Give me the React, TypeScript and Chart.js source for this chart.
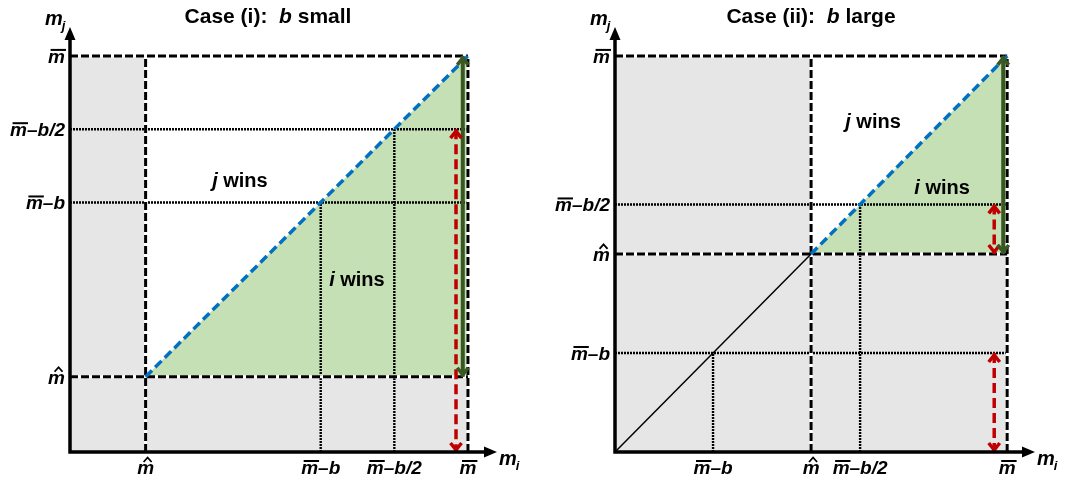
import React, { useEffect, useRef } from 'react';
import { Chart, registerables } from 'chart.js';
Chart.register(...registerables);

const HAT = '\u0302';
const BAR = '\u0305';

const M_BAR = 100;
const CASE_I_M_HAT = 19;
const CASE_I_B = 37;
const CASE_II_M_HAT = 50;
const CASE_II_B = 75;

const caseIXTicks = [CASE_I_M_HAT, M_BAR - CASE_I_B, M_BAR - CASE_I_B / 2, M_BAR];
const caseIXLabels = ['m' + HAT, 'm' + BAR + '\u2013b', 'm' + BAR + '\u2013b/2', 'm' + BAR];
const caseIYTicks = [M_BAR, M_BAR - CASE_I_B / 2, M_BAR - CASE_I_B, CASE_I_M_HAT];
const caseIYLabels = ['m' + BAR, 'm' + BAR + '\u2013b/2', 'm' + BAR + '\u2013b', 'm' + HAT];

const caseIIXTicks = [M_BAR - CASE_II_B, CASE_II_M_HAT, M_BAR - CASE_II_B / 2, M_BAR];
const caseIIXLabels = ['m' + BAR + '\u2013b', 'm' + HAT, 'm' + BAR + '\u2013b/2', 'm' + BAR];
const caseIIYTicks = [M_BAR, M_BAR - CASE_II_B / 2, CASE_II_M_HAT, M_BAR - CASE_II_B];
const caseIIYLabels = ['m' + BAR, 'm' + BAR + '\u2013b/2', 'm' + HAT, 'm' + BAR + '\u2013b'];

const caseITitle = ['Case (i):  ', 'b', ' small'];
const caseIITitle = ['Case (ii):  ', 'b', ' large'];

const regionPlayers = ['j', 'i'];
const regionSuffix = ' wins';
const caseIRegionX = [42.7, 72.1];
const caseIRegionY = [66.9, 41.9];
const caseIIRegionX = [65.8, 83.4];
const caseIIRegionY = [81.8, 65.2];

// [green arrow x, red arrow x]
const caseIArrowX = [98.7, 97.0];
const caseIIArrowX = [99.0, 96.7];

// red dashed arrows: [from, to] pairs
const caseIRedArrows = [[M_BAR - CASE_I_B / 2, 0]];
const caseIIRedArrows = [[M_BAR - CASE_II_B / 2, CASE_II_M_HAT], [M_BAR - CASE_II_B, 0]];

const GRAY = '#e7e6e6';
const GREEN_FILL = '#c5e0b4';
const BLUE = '#0070c0';
const RED = '#c00000';
const DARK_GREEN = '#385723';
const FONT = '"Liberation Sans", Arial, sans-serif';

type Pt = { x: number; y: number };

interface PanelCfg {
  mHat: number;
  b: number;
  xMax: number;
  yMax: number;
  padding: { left: number; right: number; top: number; bottom: number };
  title: string[];
  titleX: number;
  xTicks: number[];
  xLabels: string[];
  yTicks: number[];
  yLabels: string[];
  regionX: number[];
  regionY: number[];
  arrowX: number[];
  redArrows: number[][];
  originDiagonal: boolean;
}

const panels: PanelCfg[] = [
  {
    mHat: CASE_I_M_HAT, b: CASE_I_B, xMax: 107.3, yMax: 107.3,
    padding: { left: 70, right: 38, top: 27, bottom: 33 },
    title: caseITitle, titleX: 268,
    xTicks: caseIXTicks, xLabels: caseIXLabels, yTicks: caseIYTicks, yLabels: caseIYLabels,
    regionX: caseIRegionX, regionY: caseIRegionY, arrowX: caseIArrowX, redArrows: caseIRedArrows,
    originDiagonal: false,
  },
  {
    mHat: CASE_II_M_HAT, b: CASE_II_B, xMax: 107.1, yMax: 107.3,
    padding: { left: 80, right: 35, top: 27, bottom: 33 },
    title: caseIITitle, titleX: 276,
    xTicks: caseIIXTicks, xLabels: caseIIXLabels, yTicks: caseIIYTicks, yLabels: caseIIYLabels,
    regionX: caseIIRegionX, regionY: caseIIRegionY, arrowX: caseIIArrowX, redArrows: caseIIRedArrows,
    originDiagonal: true,
  },
];

function seg(x1: number, y1: number, x2: number, y2: number): Pt[] {
  return [{ x: x1, y: y1 }, { x: x2, y: y2 }];
}

function lineDs(data: Pt[], color: string, width: number, dash: number[] = [], extra: any = {}) {
  return {
    data, borderColor: color, borderWidth: width, borderDash: dash,
    pointRadius: 0, pointHoverRadius: 0, fill: false, tension: 0, clip: false,
    borderCapStyle: 'butt', borderJoinStyle: 'miter', ...extra,
  };
}

function shapeDs(data: Pt[], color: string) {
  return {
    data, borderColor: 'rgba(0,0,0,0)', borderWidth: 0, backgroundColor: color,
    pointRadius: 0, pointHoverRadius: 0, fill: 'shape', tension: 0, clip: false,
  };
}

function buildDatasets(cfg: PanelCfg) {
  const h = cfg.mHat;
  const m = M_BAR;
  const ds: any[] = [];
  ds.push(shapeDs([
    { x: 0, y: 0 }, { x: m, y: 0 }, { x: m, y: h }, { x: h, y: h }, { x: h, y: m }, { x: 0, y: m }, { x: 0, y: 0 },
  ], GRAY));
  ds.push(shapeDs([{ x: h, y: h }, { x: m, y: m }, { x: m, y: h }, { x: h, y: h }], GREEN_FILL));
  // dotted reference lines
  [m - cfg.b, m - cfg.b / 2].forEach((v) => {
    ds.push(lineDs(seg(0, v, m, v), '#000', 2.4, [2, 1]));
    ds.push(lineDs(seg(v, 0, v, v), '#000', 2.4, [2, 1]));
  });
  // thick dashed lines (white underlay + black dashes)
  const dashed: Pt[][] = [seg(0, m, m, m), seg(0, h, m, h), seg(h, 0, h, m), seg(m, 0, m, m)];
  dashed.forEach((d) => ds.push(lineDs(d, '#ffffff', 3)));
  dashed.forEach((d) => ds.push(lineDs(d, '#000', 3, [8, 3])));
  if (cfg.originDiagonal) ds.push(lineDs(seg(0, 0, h, h), '#000', 1.5));
  ds.push(lineDs(seg(h, h, m, m), BLUE, 3.5, [9, 4.5]));
  cfg.redArrows.forEach(([a, c]) => {
    ds.push(lineDs(seg(cfg.arrowX[1], a, cfg.arrowX[1], c), RED, 3.5, [10, 5], { arrow: true }));
  });
  ds.push(lineDs(seg(cfg.arrowX[0], m, cfg.arrowX[0], h), DARK_GREEN, 4, [], { arrow: true }));
  const n = ds.length;
  ds.forEach((d, i) => { d.order = n - i; });
  return ds;
}

function drawDecorated(ctx: CanvasRenderingContext2D, label: string, x: number, y: number, align: 'center' | 'right') {
  ctx.font = `bold italic 19px ${FONT}`;
  const deco = label.charAt(1);
  const text = label.charAt(0) + label.slice(2);
  const w = ctx.measureText(text).width;
  const mw = ctx.measureText('m').width;
  const x0 = align === 'center' ? x - w / 2 : x - w;
  ctx.textAlign = 'left';
  ctx.textBaseline = 'alphabetic';
  ctx.fillStyle = '#000';
  ctx.fillText(text, x0, y);
  if (deco === BAR) {
    ctx.fillRect(x0 + 2.5, y - 14, mw - 1.5, 2);
  } else if (deco === HAT) {
    const cx = x0 + mw / 2 + 2;
    ctx.beginPath();
    ctx.lineWidth = 1.8;
    ctx.strokeStyle = '#000';
    ctx.moveTo(cx - 4, y - 12);
    ctx.lineTo(cx, y - 16.5);
    ctx.lineTo(cx + 4, y - 12);
    ctx.stroke();
  }
}

function drawParts(ctx: CanvasRenderingContext2D, parts: string[], italicIdx: number, size: number, cx: number, y: number, align: 'center' | 'left') {
  const fonts = parts.map((_, i) => `bold ${i === italicIdx ? 'italic ' : ''}${size}px ${FONT}`);
  const widths = parts.map((p, i) => { ctx.font = fonts[i]; return ctx.measureText(p).width; });
  const total = widths.reduce((a, b) => a + b, 0);
  let x = align === 'center' ? cx - total / 2 : cx;
  ctx.textAlign = 'left';
  ctx.textBaseline = 'alphabetic';
  ctx.fillStyle = '#000';
  parts.forEach((p, i) => { ctx.font = fonts[i]; ctx.fillText(p, x, y); x += widths[i]; });
}

function makeOverlay(cfg: PanelCfg) {
  return {
    id: 'overlay',
    afterDatasetsDraw(chart: any) {
      const ctx: CanvasRenderingContext2D = chart.ctx;
      const { top, right, bottom, left } = chart.chartArea;
      const xs = chart.scales.x;
      const ys = chart.scales.y;
      const ox = xs.getPixelForValue(0);
      const oy = ys.getPixelForValue(0);
      ctx.save();
      // arrowheads on double arrows
      chart.data.datasets.forEach((d: any, i: number) => {
        if (!d.arrow) return;
        const pts = chart.getDatasetMeta(i).data;
        const p0 = { x: pts[0].x, y: pts[0].y };
        const p1 = { x: pts[1].x, y: pts[1].y };
        const heads = [[p0, p1], [p1, p0]];
        heads.forEach(([tip, from]) => {
          const dx = tip.x - from.x, dy = tip.y - from.y;
          const len = Math.hypot(dx, dy) || 1;
          const ux = dx / len, uy = dy / len;
          const nx = -uy, ny = ux;
          const L = 9, W = 5.5;
          ctx.beginPath();
          ctx.setLineDash([]);
          ctx.strokeStyle = d.borderColor;
          ctx.lineWidth = 3.5;
          ctx.lineJoin = 'miter';
          ctx.lineCap = 'butt';
          ctx.moveTo(tip.x - ux * L + nx * W, tip.y - uy * L + ny * W);
          ctx.lineTo(tip.x - ux * 2, tip.y - uy * 2);
          ctx.lineTo(tip.x - ux * L - nx * W, tip.y - uy * L - ny * W);
          ctx.stroke();
        });
      });
      // axes
      ctx.setLineDash([]);
      ctx.strokeStyle = '#000';
      ctx.fillStyle = '#000';
      ctx.lineWidth = 3.5;
      ctx.beginPath();
      ctx.moveTo(ox, oy + 1.75);
      ctx.lineTo(ox, top + 10);
      ctx.moveTo(ox - 1.75, oy);
      ctx.lineTo(right - 10, oy);
      ctx.stroke();
      ctx.beginPath();
      ctx.moveTo(ox, top);
      ctx.lineTo(ox - 5.5, top + 13);
      ctx.lineTo(ox + 5.5, top + 13);
      ctx.closePath();
      ctx.fill();
      ctx.beginPath();
      ctx.moveTo(right, oy);
      ctx.lineTo(right - 13, oy - 5.5);
      ctx.lineTo(right - 13, oy + 5.5);
      ctx.closePath();
      ctx.fill();
      // tick labels
      cfg.xTicks.forEach((v, i) => drawDecorated(ctx, cfg.xLabels[i], xs.getPixelForValue(v), bottom + 22, 'center'));
      cfg.yTicks.forEach((v, i) => drawDecorated(ctx, cfg.yLabels[i], left - 5, ys.getPixelForValue(v) + 7, 'right'));
      // axis labels
      ctx.fillStyle = '#000';
      ctx.textAlign = 'left';
      ctx.textBaseline = 'alphabetic';
      ctx.font = `bold italic 20px ${FONT}`;
      ctx.fillText('m', left - 25, top - 2);
      const mW = ctx.measureText('m').width;
      ctx.font = `bold italic 13px ${FONT}`;
      ctx.fillText('j', left - 25 + mW - 1, top + 3);
      ctx.font = `bold italic 20px ${FONT}`;
      ctx.fillText('m', right + 2, bottom + 13);
      ctx.font = `bold italic 13px ${FONT}`;
      ctx.fillText('i', right + 2 + mW - 1, bottom + 18);
      // region labels
      regionPlayers.forEach((p, i) => {
        drawParts(ctx, [p, regionSuffix], 0, 20, xs.getPixelForValue(cfg.regionX[i]), ys.getPixelForValue(cfg.regionY[i]), 'center');
      });
      // title
      drawParts(ctx, cfg.title, 1, 21, cfg.titleX, 23, 'center');
      ctx.restore();
    },
  };
}

function buildConfig(cfg: PanelCfg): any {
  return {
    type: 'line',
    data: { datasets: buildDatasets(cfg) },
    options: {
      animation: false,
      responsive: false,
      events: [],
      layout: { padding: cfg.padding },
      plugins: { legend: { display: false }, tooltip: { enabled: false }, title: { display: false } },
      scales: {
        x: { type: 'linear', min: 0, max: cfg.xMax, display: false },
        y: { type: 'linear', min: 0, max: cfg.yMax, display: false },
      },
    },
    plugins: [makeOverlay(cfg)],
  };
}

function Panel({ cfg }: { cfg: PanelCfg }) {
  const ref = useRef<HTMLCanvasElement>(null);
  useEffect(() => {
    const chart = new Chart(ref.current as HTMLCanvasElement, buildConfig(cfg));
    return () => chart.destroy();
  }, [cfg]);
  return <canvas ref={ref} width={535} height={485} style={{ display: 'block' }} />;
}

export default function App() {
  return (
    <div style={{ display: 'flex', width: 1070, height: 485, background: '#fff' }}>
      <style>{'body{margin:0;background:#fff;}'}</style>
      {panels.map((p, i) => <Panel key={i} cfg={p} />)}
    </div>
  );
}
